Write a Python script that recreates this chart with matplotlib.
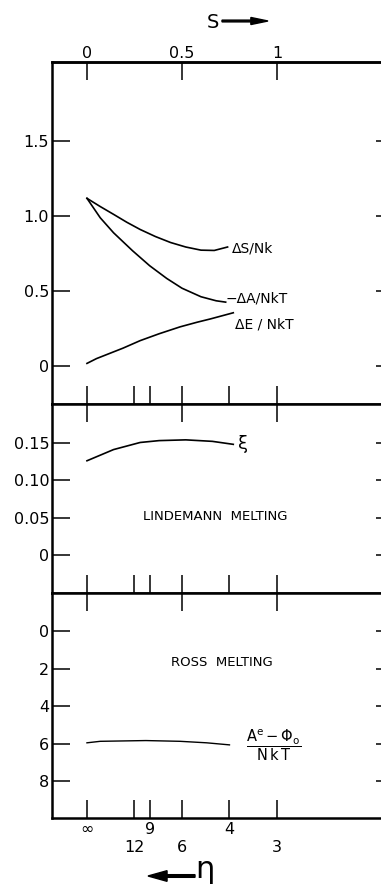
import numpy as np
import matplotlib
matplotlib.use("Agg")
import matplotlib.pyplot as plt

# s = 3/n  (softness)
s_top = [0, 0.07, 0.14, 0.21, 0.28, 0.36, 0.44, 0.52, 0.6, 0.67, 0.74]
dS_Nk = [1.12, 1.065, 1.013, 0.96, 0.912, 0.865, 0.825, 0.795, 0.774, 0.772, 0.795]
s_dA = [0, 0.07, 0.14, 0.24, 0.33, 0.42, 0.5, 0.6, 0.68, 0.73]
mdA_NkT = [1.12, 0.99, 0.89, 0.77, 0.67, 0.585, 0.52, 0.463, 0.436, 0.427]
s_dE = [0, 0.05, 0.14, 0.19, 0.28, 0.38, 0.49, 0.58, 0.65, 0.77]
dE_NkT = [0.018, 0.05, 0.095, 0.12, 0.17, 0.216, 0.262, 0.293, 0.315, 0.356]

s_lind = [0, 0.14, 0.28, 0.38, 0.52, 0.66, 0.77]
xi = [0.126, 0.141, 0.1505, 0.153, 0.154, 0.152, 0.148]

s_ross = [0, 0.07, 0.31, 0.49, 0.63, 0.75]
ross = [5.96, 5.88, 5.84, 5.88, 5.96, 6.07]

n_vals = [np.inf, 12, 9, 6, 4, 3]
n_labels = ["∞", "\n12", "9", "\n6", "4", "\n3"]
s_major = [0, 0.5, 1]

s_n = [3.0 / n for n in n_vals]

plt.rcParams['font.family'] = ['DejaVu Sans']
plt.rcParams['mathtext.fontset'] = 'dejavusans'

fig = plt.figure(figsize=(3.81, 8.86), dpi=100)
W = 886.0
left = 52 / 381.0
width = (383 - 52) / 381.0
ax1 = fig.add_axes([left, 1 - 404 / W, width, (404 - 62) / W])
ax2 = fig.add_axes([left, 1 - 593 / W, width, (593 - 404) / W])
ax3 = fig.add_axes([left, 1 - 818 / W, width, (818 - 593) / W])

for ax in (ax1, ax2, ax3):
    ax.set_xlim(-0.184, 1.558)
    for sp in ax.spines.values():
        sp.set_linewidth(1.8)
    ax.tick_params(axis='y', direction='in', length=13, width=1.1, labelsize=11.5,
                   pad=2, right=True)
    ax.set_xticks(s_n)
    ax.tick_params(axis='x', direction='in', length=13, width=1.1, labelbottom=False)
    if ax is not ax1:
        top = ax.secondary_xaxis('top')
        top.set_xticks(s_major)
        top.tick_params(direction='in', length=13, width=1.1, labeltop=False)

# top panel
ax1.plot(s_top, dS_Nk, color='black', lw=1.2)
ax1.plot(s_dA, mdA_NkT, color='black', lw=1.2)
ax1.plot(s_dE, dE_NkT, color='black', lw=1.2)
ax1.set_ylim(-0.253, 2.03)
ax1.set_yticks([0, 0.5, 1.0, 1.5])
ax1.set_yticklabels(["0", "0.5", "1.0", "1.5"])
top1 = ax1.secondary_xaxis('top')
top1.set_xticks(s_major)
top1.set_xticklabels(["0", "0.5", "1"])
top1.tick_params(direction='in', length=13, width=1.1, labelsize=11.5, pad=1)
top1.spines['top'].set_linewidth(1.8)
ax1.text(0.763, 0.785, "ΔS/Nk", fontsize=10, ha='left', va='center')
ax1.text(0.73, 0.45, "−ΔA/NkT", fontsize=10, ha='left', va='center')
ax1.text(0.78, 0.28, "ΔE / NkT", fontsize=10, ha='left', va='center')

# middle panel
ax2.plot(s_lind, xi, color='black', lw=1.2)
ax2.set_ylim(-0.051, 0.202)
ax2.set_yticks([0, 0.05, 0.10, 0.15])
ax2.set_yticklabels(["0", "0.05", "0.10", "0.15"])
ax2.text(0.82, 0.148, "ξ", fontsize=13, ha='center', va='center')
ax2.text(0.674, 0.052, "LINDEMANN  MELTING", fontsize=9.5, ha='center', va='center')

# bottom panel
ax3.plot(s_ross, ross, color='black', lw=1.0)
ax3.set_ylim(9.97, -2.03)
ax3.set_yticks([0, 2, 4, 6, 8])
ax3.set_xticklabels(n_labels)
ax3.tick_params(axis='x', labelbottom=True, labelsize=11.5, pad=3)
ax3.text(0.71, 1.7, "ROSS  MELTING", fontsize=9.5, ha='center', va='center')
ax3.text(0.98, 6.1, r"$\dfrac{\mathrm{A^e - \Phi_o}}{\mathrm{N\,k\,T}}$", fontsize=10.5,
         ha='center', va='center')

for ax in (ax1, ax2, ax3):
    for t in ax.yaxis.get_major_ticks():
        t.tick2line.set_markersize(5)

# axis titles with arrows
fig.text(213 / 381.0, 1 - 22 / W, "S", fontsize=14, ha='center', va='center')
fig.patches.append(matplotlib.patches.FancyArrow(
    222 / 381.0, 1 - 21 / W, 46 / 381.0, 0, width=0.002, head_width=0.008,
    head_length=0.045, length_includes_head=True, color='black',
    transform=fig.transFigure, figure=fig))
fig.text(205 / 381.0, 1 - 870 / W, "η", fontsize=22, ha='center', va='center')
fig.patches.append(matplotlib.patches.FancyArrow(
    195 / 381.0, 1 - 876 / W, -47 / 381.0, 0, width=0.003, head_width=0.012,
    head_length=0.05, length_includes_head=True, color='black',
    transform=fig.transFigure, figure=fig))

fig.savefig("out.png", dpi=100)
